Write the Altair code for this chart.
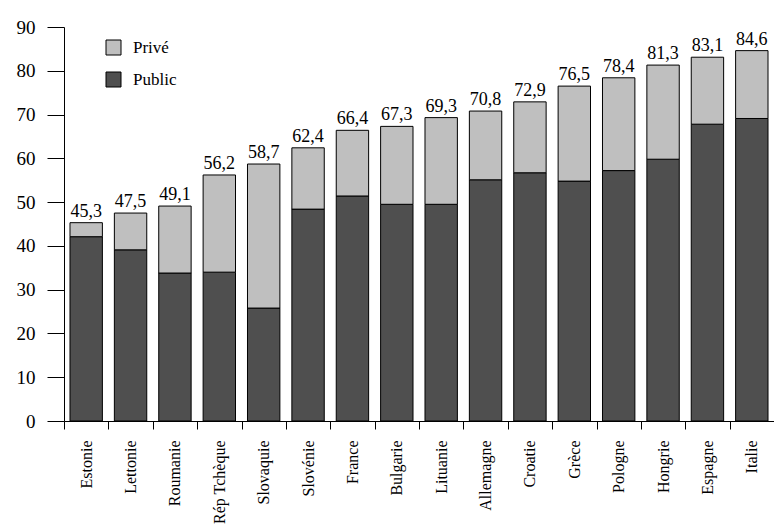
import altair as alt
import pandas as pd

# Countries in display order, public share and total (public + private)
countries = ["Estonie", "Lettonie", "Roumanie", "Rép Tchèque", "Slovaquie", "Slovénie",
             "France", "Bulgarie", "Lituanie", "Allemagne", "Croatie", "Grèce",
             "Pologne", "Hongrie", "Espagne", "Italie"]
public = [42.1, 39.1, 33.8, 34.0, 25.8, 48.4, 51.4, 49.5, 49.5, 55.1, 56.7, 54.8,
          57.2, 59.8, 67.8, 69.1]
total = [45.3, 47.5, 49.1, 56.2, 58.7, 62.4, 66.4, 67.3, 69.3, 70.8, 72.9, 76.5,
         78.4, 81.3, 83.1, 84.6]

series = ["Privé", "Public"]
colors = ["#bfbfbf", "#4f4f4f"]
y_ticks = list(range(0, 100, 10))

FONT = "Times New Roman, Liberation Serif, serif"

rows = []
for c, p, t in zip(countries, public, total):
    rows.append({"pays": c, "serie": "Public", "debut": 0.0, "fin": p})
    rows.append({"pays": c, "serie": "Privé", "debut": p, "fin": t})
segments = pd.DataFrame(rows)

totals = pd.DataFrame({
    "pays": countries,
    "total": total,
    "label": [f"{t:.1f}".replace(".", ",") for t in total],
})

x_enc = alt.X(
    "pays:N",
    sort=countries,
    title=None,
    scale=alt.Scale(paddingInner=0, paddingOuter=0),
    axis=alt.Axis(
        labelAngle=-90, labelAlign="right", labelBaseline="middle",
        labelFontSize=16, labelPadding=11, labelColor="black", labelFont=FONT,
        tickBand="extent", tickSize=8, tickColor="black", domainColor="black",
        grid=False,
    ),
)

y_scale = alt.Scale(domain=[0, 90], nice=False)

bars = alt.Chart(segments).mark_bar(
    width=alt.RelativeBandSize(0.73), stroke="black", strokeWidth=1
).encode(
    x=x_enc,
    y=alt.Y(
        "debut:Q", scale=y_scale, title=None,
        axis=alt.Axis(
            values=y_ticks, tickSize=17, tickColor="black", domainColor="black",
            labelFontSize=19, labelPadding=12, labelColor="black", labelFont=FONT,
            grid=False,
        ),
    ),
    y2="fin:Q",
    color=alt.Color(
        "serie:N",
        scale=alt.Scale(domain=series, range=colors),
        legend=alt.Legend(
            title=None, orient="none", legendX=41, legendY=12,
            symbolType="square", symbolSize=225, symbolStrokeColor="black",
            symbolStrokeWidth=1, symbolOpacity=1, labelFontSize=17,
            labelFont=FONT, labelColor="black", labelOffset=11, rowPadding=13,
        ),
    ),
)

labels = alt.Chart(totals).mark_text(
    baseline="alphabetic", dy=-6, fontSize=18, font=FONT, color="black"
).encode(
    x=alt.X("pays:N", sort=countries),
    y=alt.Y("total:Q", scale=y_scale),
    text="label:N",
)

chart = (bars + labels).properties(
    width=710,
    height=394,
    autosize=alt.AutoSizeParams(type="none"),
    padding={"left": 64, "top": 27, "right": 0, "bottom": 106},
).configure(
    background="white", font=FONT
).configure_view(stroke=None)

chart.save("out.html", embed_options={"renderer": "svg", "actions": False})
